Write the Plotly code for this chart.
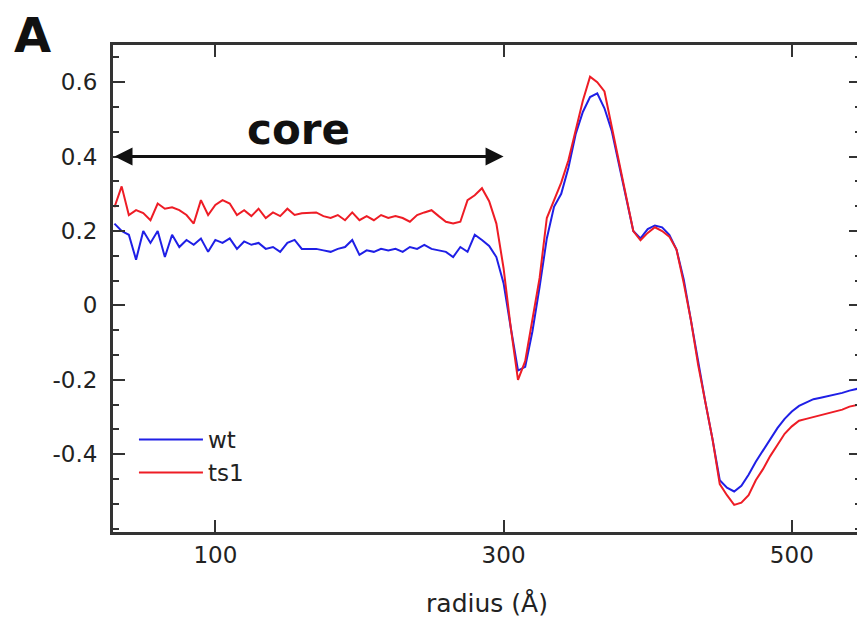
import plotly.graph_objects as go

# radius grid (Angstrom) and the two profiles
radius = list(range(30, 551, 5))

wt = [0.22, 0.2, 0.19, 0.123, 0.2, 0.168, 0.2, 0.13, 0.19, 0.157,
      0.176, 0.163, 0.18, 0.144, 0.176, 0.168, 0.18, 0.152, 0.172, 0.163,
      0.168, 0.152, 0.157, 0.144, 0.168, 0.176, 0.152, 0.152, 0.152, 0.148,
      0.144, 0.152, 0.157, 0.176, 0.136, 0.148, 0.144, 0.152, 0.148, 0.152,
      0.144, 0.157, 0.152, 0.163, 0.152, 0.148, 0.144, 0.13, 0.157, 0.144,
      0.19, 0.176, 0.16, 0.13, 0.06, -0.06, -0.175, -0.165, -0.07, 0.05,
      0.18, 0.265, 0.3, 0.37, 0.46, 0.52, 0.56, 0.57, 0.53, 0.47,
      0.38, 0.29, 0.2, 0.18, 0.205, 0.215, 0.21, 0.19, 0.15, 0.07,
      -0.04, -0.16, -0.26, -0.36, -0.47, -0.49, -0.5, -0.485, -0.455, -0.42,
      -0.39, -0.36, -0.33, -0.305, -0.285, -0.27, -0.26, -0.252, -0.248, -0.244,
      -0.24, -0.235, -0.229, -0.224, -0.22]

ts1 = [0.264, 0.32, 0.243, 0.256, 0.248, 0.229, 0.274, 0.26, 0.264, 0.256,
       0.243, 0.22, 0.283, 0.243, 0.27, 0.283, 0.274, 0.243, 0.256, 0.24,
       0.26, 0.235, 0.25, 0.24, 0.26, 0.243, 0.248, 0.25, 0.25, 0.24,
       0.235, 0.243, 0.229, 0.25, 0.229, 0.24, 0.229, 0.243, 0.235, 0.24,
       0.235, 0.225, 0.243, 0.25, 0.256, 0.24, 0.225, 0.22, 0.225, 0.283,
       0.296, 0.315, 0.28, 0.22, 0.1, -0.06, -0.2, -0.15, -0.035, 0.074,
       0.235, 0.28, 0.33, 0.39, 0.47, 0.55, 0.615, 0.6, 0.575, 0.48,
       0.38, 0.29, 0.2, 0.175, 0.195, 0.21, 0.2, 0.185, 0.15, 0.06,
       -0.04, -0.16, -0.26, -0.36, -0.48, -0.51, -0.536, -0.53, -0.51, -0.47,
       -0.44, -0.405, -0.375, -0.345, -0.325, -0.31, -0.305, -0.3, -0.293, -0.29,
       -0.285, -0.28, -0.272, -0.268, -0.264]

y_ticks = [-0.4, -0.2, 0, 0.2, 0.4, 0.6]
y_labels = ['-0.4', '-0.2', '0', '0.2', '0.4', '0.6']
x_ticks = [100, 300, 500]

FONT = 'DejaVu Sans'
INK = '#222222'

fig = go.Figure()
fig.add_trace(go.Scatter(x=radius, y=wt, mode='lines', name='wt',
                         line=dict(color='#1f1fe6', width=2)))
fig.add_trace(go.Scatter(x=radius, y=ts1, mode='lines', name='ts1',
                         line=dict(color='#ee1c25', width=2)))

axis_style = dict(showline=True, linecolor='#333333', linewidth=3, mirror='ticks',
                  ticks='inside', tickcolor='#333333', tickwidth=2, ticklen=12,
                  showgrid=False, zeroline=False, automargin=False,
                  tickfont=dict(family=FONT, size=23, color=INK))

fig.update_xaxes(range=[29, 548], tickvals=x_ticks,
                 title=dict(text='radius (Å)', font=dict(family=FONT, size=25, color=INK),
                            standoff=28),
                 **axis_style)
fig.update_yaxes(range=[-0.609, 0.70], tickvals=y_ticks, ticktext=y_labels,
                 ticklabelstandoff=8,
                 minor=dict(dtick=0.2 / 3, tick0=0, ticks='inside', ticklen=6,
                            tickwidth=2, tickcolor='#333333'),
                 **axis_style)

# double-headed "core" arrow and panel label
fig.add_annotation(x=300, y=0.4, ax=29, ay=0.4, axref='x', ayref='y', xref='x', yref='y',
                   text='', showarrow=True, arrowhead=2, arrowside='end+start',
                   arrowsize=1.2, arrowwidth=3, arrowcolor='#111111')
fig.add_annotation(x=158, y=0.473, xref='x', yref='y', text='<b>core</b>', showarrow=False,
                   font=dict(family=FONT, size=42, color='#111111'))
fig.add_annotation(x=-0.108, y=1.021, xref='paper', yref='paper', text='<b>A</b>',
                   showarrow=False, xanchor='center', yanchor='middle',
                   font=dict(family=FONT, size=48, color='#111111'))

# the page puts the figure a few px in from the top-left corner, so the figure is
# shrunk by that much to keep the plot area where it sits in the reference
fig.update_layout(
    template='none',
    width=857, height=617,
    margin=dict(l=105, r=4, t=37, b=93),
    paper_bgcolor='white', plot_bgcolor='white',
    showlegend=True,
    legend=dict(x=0.028, y=0.234, xanchor='left', yanchor='top',
                bgcolor='rgba(0,0,0,0)', itemwidth=64,
                font=dict(family=FONT, size=23, color=INK)),
)

fig.write_html('out.html')
